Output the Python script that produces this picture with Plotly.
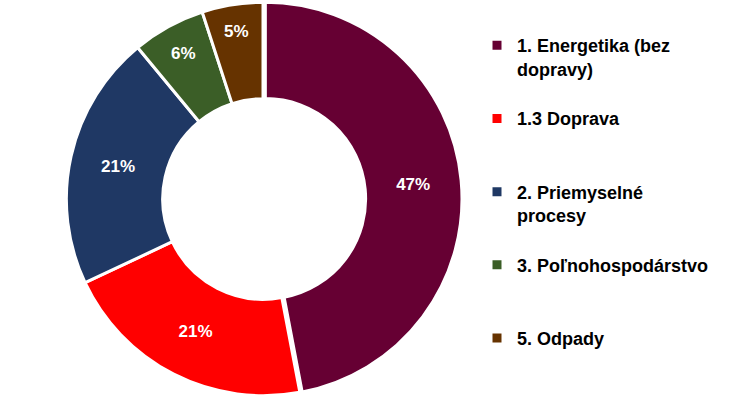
import plotly.graph_objects as go

labels = ["1. Energetika (bez<br>dopravy)", "1.3 Doprava", "2. Priemyselné<br>procesy",
          "3. Poľnohospodárstvo", "5. Odpady"]
legend_pad = ["<br>\u00a0", "<br>\u00a0<br>\u00a0", "<br>\u00a0", "<br>\u00a0<br>\u00a0", ""]
values = [47, 21, 21, 6, 5]
colors = ["#660033", "#FF0000", "#1F3864", "#3B5E27", "#663300"]

fig = go.Figure(go.Pie(
    labels=[l + p for l, p in zip(labels, legend_pad)],
    values=values,
    sort=False,
    direction="clockwise",
    rotation=0,
    hole=0.51,
    pull=[0.012, 0, 0, 0, 0],
    marker=dict(colors=colors, line=dict(color="white", width=3)),
    textinfo="percent",
    texttemplate="%{percent:.0%}",
    textposition="inside",
    insidetextorientation="horizontal",
    textfont=dict(family="Liberation Sans, Arial", size=17, color="white", weight="bold"),
    hoverinfo="percent",
    domain=dict(x=[63/740, 463/740], y=[0, 1]),
))

fig.update_layout(
    width=740, height=398,
    margin=dict(l=0, r=0, t=0, b=0),
    paper_bgcolor="white",
    plot_bgcolor="white",
    showlegend=True,
    legend=dict(
        x=477/740, y=0.932, xanchor="left", yanchor="top",
        valign="top",
        font=dict(family="Liberation Sans, Arial", size=18, color="black", weight="bold"),
        bgcolor="rgba(0,0,0,0)",
        itemclick=False,
    ),
)

fig.write_html("out.html", config={"displayModeBar": False},
               post_script="document.body.style.margin='0px';")
